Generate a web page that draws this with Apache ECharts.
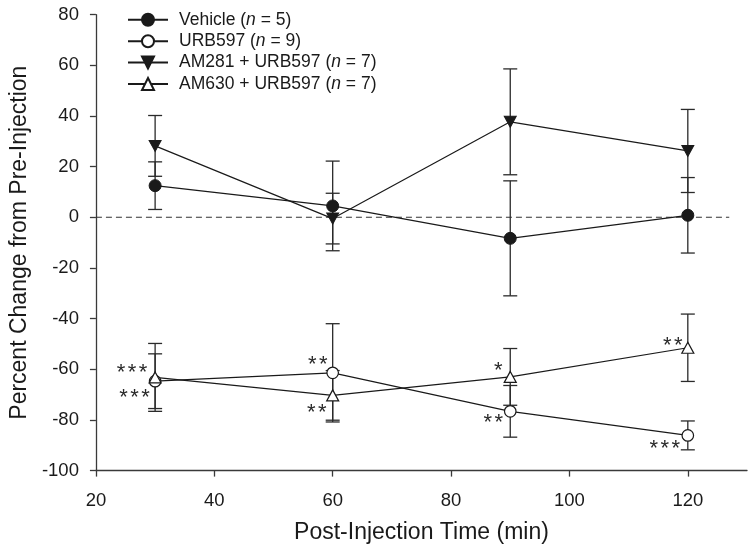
<!DOCTYPE html>
<html>
<head>
<meta charset="utf-8">
<script src="https://cdn.jsdelivr.net/npm/echarts@6/dist/echarts.min.js"></script>
<style>
html,body{margin:0;padding:0;background:#fff;}
#chart{width:754px;height:553px;}
</style>
</head>
<body>
<div id="chart"></div>
<script>
// ---- data ----
const timePoints = [30, 60, 90, 120];
const seriesNames = ['Vehicle', 'URB597', 'AM281 + URB597', 'AM630 + URB597'];
const nValues = [5, 9, 7, 7];
const vehicleMean = [12.5, 4.5, -8.3, 0.8];
const vehicleErr  = [9.4, 17.7, 22.7, 14.9];
const urbMean     = [-64.7, -61.4, -76.6, -86.1];
const urbErr      = [10.8, 19.4, 10.2, 5.7];
const am281Mean   = [28.2, -0.5, 37.7, 26.2];
const am281Err    = [12.0, 10.0, 20.9, 16.4];
const am630Mean   = [-63.2, -70.3, -63.0, -51.5];
const am630Err    = [13.4, 9.8, 11.2, 13.3];
const urbStars    = ['***', '**', '**', '***'];
const am630Stars  = ['***', '**', '*', '**'];
const xTicks = [20, 40, 60, 80, 100, 120];
const refLineX = [20, 127];
const refLineY = 0;

// ---- layout / style ----
const FONT = '"Liberation Sans", Arial, sans-serif';
const INK = '#1a1a1a';
const urbStarOffsets   = [[-20.5, 12.6], [-15, -12], [-17, 8], [-23, 10]];
const am630StarOffsets = [[-23, -8.4], [-16, 14], [-12, -10], [-15, -6]];
const STAR_PITCH = 11;
const STAR_FONT = 22;
const STAR_BASE_SHIFT = 4;

function pairs(xs, ys) { return xs.map((x, i) => [x, ys[i]]); }
function triples(xs, ys, es) { return xs.map((x, i) => [x, ys[i], es[i]]); }

function errorSeries(means, errs) {
  return {
    type: 'custom',
    z: 2,
    silent: true,
    data: triples(timePoints, means, errs),
    encode: { x: 0, y: 1 },
    renderItem: function (params, api) {
      const x = api.value(0), m = api.value(1), e = api.value(2);
      const t = api.coord([x, m + e]);
      const b = api.coord([x, m - e]);
      const hw = 7;
      const st = { stroke: '#2a2a2a', lineWidth: 1.3 };
      return {
        type: 'group',
        children: [
          { type: 'line', shape: { x1: t[0], y1: t[1], x2: b[0], y2: b[1] }, style: st },
          { type: 'line', shape: { x1: t[0] - hw, y1: t[1], x2: t[0] + hw, y2: t[1] }, style: st },
          { type: 'line', shape: { x1: b[0] - hw, y1: b[1], x2: b[0] + hw, y2: b[1] }, style: st }
        ]
      };
    }
  };
}

function starSeries(means, stars, offsets) {
  return {
    type: 'custom',
    z: 4,
    silent: true,
    data: timePoints.map((x, i) => [x, means[i], i]),
    encode: { x: 0, y: 1 },
    renderItem: function (params, api) {
      const i = api.value(2);
      const p = api.coord([api.value(0), api.value(1)]);
      const o = offsets[i];
      const s = stars[i];
      const n = s.length;
      const cx = p[0] + o[0];
      const cy = p[1] + o[1] + STAR_BASE_SHIFT;
      const children = [];
      for (let k = 0; k < n; k++) {
        children.push({
          type: 'text',
          style: {
            text: s[k],
            x: cx + (k - (n - 1) / 2) * STAR_PITCH,
            y: cy,
            align: 'center',
            verticalAlign: 'middle',
            font: STAR_FONT + 'px ' + FONT,
            fill: '#2a2a2a'
          }
        });
      }
      return { type: 'group', children: children };
    }
  };
}

function lineSeries(name, means, symbol, size, filled, rotate) {
  return {
    name: name,
    type: 'line',
    z: 3,
    data: pairs(timePoints, means),
    symbol: symbol,
    symbolSize: size,
    symbolRotate: rotate || 0,
    showAllSymbol: true,
    lineStyle: { color: INK, width: 1.2 },
    itemStyle: filled
      ? { color: INK, borderColor: INK, borderWidth: 1 }
      : { color: '#ffffff', borderColor: INK, borderWidth: 1.2 },
    emphasis: { disabled: true },
    animation: false
  };
}

const chart = echarts.init(document.getElementById('chart'), null, { renderer: 'canvas' });

const option = {
  animation: false,
  backgroundColor: '#ffffff',
  grid: { left: 95, right: 7, top: 14.7, bottom: 82.4, containLabel: false },
  legend: {
    data: seriesNames,
    orient: 'vertical',
    left: 127,
    top: 10.8,
    padding: 0,
    itemWidth: 40,
    itemHeight: 15,
    itemGap: 3.4,
    selectedMode: false,
    formatter: function (name) {
      const i = seriesNames.indexOf(name);
      return name + ' ({it|n} = ' + nValues[i] + ')';
    },
    textStyle: {
      fontFamily: FONT,
      fontSize: 17.5,
      lineHeight: 15,
      color: INK,
      padding: [0, 0, 0, 6],
      rich: { it: { fontStyle: 'italic', fontFamily: FONT, fontSize: 17.5, lineHeight: 15, color: INK } }
    }
  },
  xAxis: {
    type: 'value',
    min: 20,
    max: 130,
    interval: 20,
    name: 'Post-Injection Time (min)',
    nameLocation: 'middle',
    nameGap: 51,
    nameTextStyle: { fontFamily: FONT, fontSize: 23, color: INK },
    axisLine: { show: true, onZero: false, lineStyle: { color: '#3a3a3a', width: 1.3 } },
    axisTick: { show: true, length: 6, inside: false, customValues: xTicks, lineStyle: { color: '#3a3a3a', width: 1.3 } },
    axisLabel: { customValues: xTicks, margin: 21, fontFamily: FONT, fontSize: 18.5, color: INK },
    splitLine: { show: false }
  },
  yAxis: {
    type: 'value',
    min: -100,
    max: 80,
    interval: 20,
    name: 'Percent Change from Pre-Injection',
    nameLocation: 'middle',
    nameGap: 64,
    nameTextStyle: { fontFamily: FONT, fontSize: 23, color: INK },
    axisLine: { show: true, onZero: false, lineStyle: { color: '#3a3a3a', width: 1.3 } },
    axisTick: { show: true, length: 6, inside: false, lineStyle: { color: '#3a3a3a', width: 1.3 } },
    axisLabel: { margin: 17, fontFamily: FONT, fontSize: 18.5, color: INK },
    splitLine: { show: false }
  },
  series: [
    {
      type: 'line',
      z: 1,
      silent: true,
      data: refLineX.map(x => [x, refLineY]),
      symbol: 'none',
      lineStyle: { color: '#333', width: 1.1, type: [6, 4] }
    },
    errorSeries(vehicleMean, vehicleErr),
    errorSeries(urbMean, urbErr),
    errorSeries(am281Mean, am281Err),
    errorSeries(am630Mean, am630Err),
    lineSeries(seriesNames[0], vehicleMean, 'circle', 12, true),
    lineSeries(seriesNames[1], urbMean, 'circle', 11.5, false),
    lineSeries(seriesNames[2], am281Mean, 'triangle', [12, 11], true, 180),
    lineSeries(seriesNames[3], am630Mean, 'triangle', [12, 11], false),
    starSeries(urbMean, urbStars, urbStarOffsets),
    starSeries(am630Mean, am630Stars, am630StarOffsets)
  ]
};

chart.setOption(option);
</script>
</body>
</html>
